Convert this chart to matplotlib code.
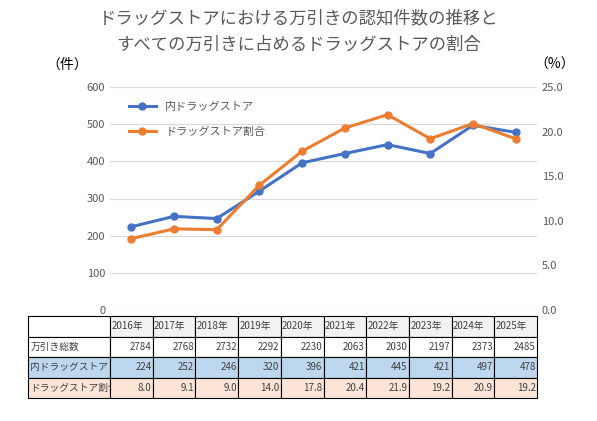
import matplotlib
matplotlib.use("Agg")
import matplotlib.pyplot as plt

plt.rcParams['font.family'] = ['Noto Sans CJK JP', 'DejaVu Sans']

years = ["2016年","2017年","2018年","2019年","2020年","2021年","2022年","2023年","2024年","2025年"]
total = [2784,2768,2732,2292,2230,2063,2030,2197,2373,2485]
drug = [224,252,246,320,396,421,445,421,497,478]
ratio = [8.0,9.1,9.0,14.0,17.8,20.4,21.9,19.2,20.9,19.2]

W, H = 597, 421
fig = plt.figure(figsize=(W/100, H/100), dpi=100)
L, R, T, B = 110, 537, 87, 310
ax = fig.add_axes([L/W, 1-B/H, (R-L)/W, (B-T)/H])
ax2 = ax.twinx()
x = list(range(len(years)))
blue, orange = "#4472C4", "#ED7D31"
l1, = ax.plot(x, drug, color=blue, lw=2.2, marker="o", ms=5, label="内ドラッグストア")
l2, = ax2.plot(x, ratio, color=orange, lw=2.2, marker="o", ms=5, label="ドラッグストア割合")
ax.set_xlim(-0.5, 9.5)
ax.set_ylim(0, 600); ax2.set_ylim(0, 25)
ax.set_yticks(range(0, 601, 100)); ax2.set_yticks([0,5,10,15,20,25])
ax2.set_yticklabels([f"{v:.1f}" for v in [0,5,10,15,20,25]])
ax.set_xticks([])
ax.grid(axis="y", color="#D9D9D9", lw=0.8)
ax.set_axisbelow(True)
for a in (ax, ax2):
    for s in a.spines.values():
        s.set_visible(False)
    a.tick_params(length=0, labelsize=8, colors="#595959")
ax.legend(handles=[l1, l2], loc="upper left", bbox_to_anchor=(0.02, 0.98), frameon=False,
          fontsize=8, labelspacing=1.3, handlelength=2.5, labelcolor="#595959")
fig.text(67/W, 1-65/H, "（件）", fontsize=10, ha="center", va="center")
fig.text(555/W, 1-65/H, "（%）", fontsize=10, ha="center", va="center")
fig.text(0.5, 1-18/H, "ドラッグストアにおける万引きの認知件数の推移と", fontsize=12.5, ha="center", va="center", color="#595959")
fig.text(0.5, 1-45/H, "すべての万引きに占めるドラッグストアの割合", fontsize=12.5, ha="center", va="center", color="#595959")

# table
tax = fig.add_axes([28/W, 1-398/H, (537-28)/W, (398-316)/H])
tax.axis("off")
rows = [[""] + years,
        ["万引き総数"] + [str(v) for v in total],
        ["内ドラッグストア"] + [str(v) for v in drug],
        ["ドラッグストア割合"] + [f"{v:.1f}" for v in ratio]]
bgs = ["#F2F2F2", "white", "#BDD7EE", "#FCE4D6"]
tbl = tax.table(cellText=rows, bbox=[0, 0, 1, 1],
                colWidths=[82/509] + [42.7/509]*10)
tbl.auto_set_font_size(False)
for (r, c), cell in tbl.get_celld().items():
    cell.set_fontsize(7)
    cell.set_linewidth(0.8)
    cell.set_edgecolor("black")
    cell.PAD = 0.03
    if c == 0:
        cell.set_facecolor("white" if r == 0 else bgs[r])
        ha = "left"
    else:
        cell.set_facecolor(bgs[r])
        ha = "left" if r == 0 else "right"
    cell.get_text().set_horizontalalignment(ha)
    cell.get_text().set_color("#404040")
fig.savefig("out.png", dpi=100)
